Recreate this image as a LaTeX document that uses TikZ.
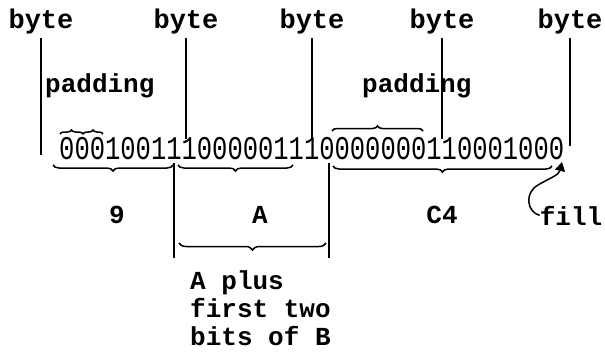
\documentclass[tikz,border=0pt]{standalone}
\usepackage{fontspec}
\usepackage{graphicx}
\newfontfamily\monofont{Liberation Mono}
\usetikzlibrary{decorations.pathreplacing,arrows.meta}
\begin{document}
\begin{tikzpicture}[x=1pt,y=-1pt,
  lbl/.style={font=\monofont\bfseries\fontsize{26}{28}\selectfont, inner sep=0pt},
  bytelbl/.style={font=\monofont\bfseries\fontsize{27}{28}\selectfont, inner sep=0pt, anchor=base},
  divider/.style={line width=1.6pt},
  overbrc/.style={decorate, decoration={brace, amplitude=#1}, line width=1.5pt},
  underbrc/.style={decorate, decoration={brace, mirror, amplitude=#1}, line width=1.5pt},
]
\useasboundingbox (0,0) rectangle (605,351);

% byte labels and boundary lines
\node[bytelbl] (b1) at (41,28) {byte};
\node[bytelbl] (b2) at (186,28) {byte};
\node[bytelbl] (b3) at (312,28) {byte};
\node[bytelbl] (b4) at (442,28) {byte};
\node[bytelbl] (b5) at (570,28) {byte};
\coordinate (e1) at (41,155);
\coordinate (e2) at (186,139);
\coordinate (e3) at (312,139);
\coordinate (e4) at (442,139);
\coordinate (e5) at (570,146);
\foreach \i in {1,...,5}{
  \draw[divider, shorten <=4pt] (b\i.south) -- (e\i);
}

% padding labels
\node[lbl, anchor=base west] (pad1) at (45,92) {padding};
\node[lbl, anchor=base west] (pad2) at (362,92) {padding};

% bit string
\node[anchor=base west, inner sep=0pt, font=\monofont\fontsize{25.5}{28}\selectfont] (bits) at (59,159)
  {\scalebox{1}[1.3]{000100111000001110000000110001000}};

% padding braces
\draw[overbrc=4pt] (60,134) -- (83,134);
\draw[overbrc=4pt] (83,134) -- (103,134);
\draw[overbrc=5pt] (332,131) -- (423,131);

% lower braces
\draw[underbrc=6pt] (53,165) -- (173,165);
\draw[underbrc=6pt] (178,165) -- (293,165);
\draw[underbrc=6pt] (333,166) -- (552,166);

% A box
\coordinate (at1) at (174,163);
\coordinate (ab1) at (174,258);
\coordinate (at2) at (329,163);
\coordinate (ab2) at (329,258);
\draw[divider] (at1) -- (ab1);
\draw[divider] (at2) -- (ab2);
\draw[underbrc=7pt] (179,243) -- (326,243);

% value labels
\node[lbl, anchor=base] (v9) at (117,223) {9};
\node[lbl, anchor=base] (vA) at (260,223) {A};
\node[lbl, anchor=base] (vC4) at (442,223) {C4};
\node[lbl, anchor=base] (fill) at (571,225) {fill};

% fill arrow
\coordinate (lastbit) at (562,162);
\draw[line width=1.5pt, -{Triangle[length=9pt,width=10pt]}]
  (fill.west) .. controls (527,212) and (524,193) .. (538,185)
  .. controls (550,178) and (559,175) .. (lastbit);

% note
\node[lbl, align=left, anchor=north west, font=\monofont\bfseries\fontsize{26}{28}\selectfont] (note) at (190,270)
  {A plus\\first two\\bits of B};
\end{tikzpicture}
\end{document}
